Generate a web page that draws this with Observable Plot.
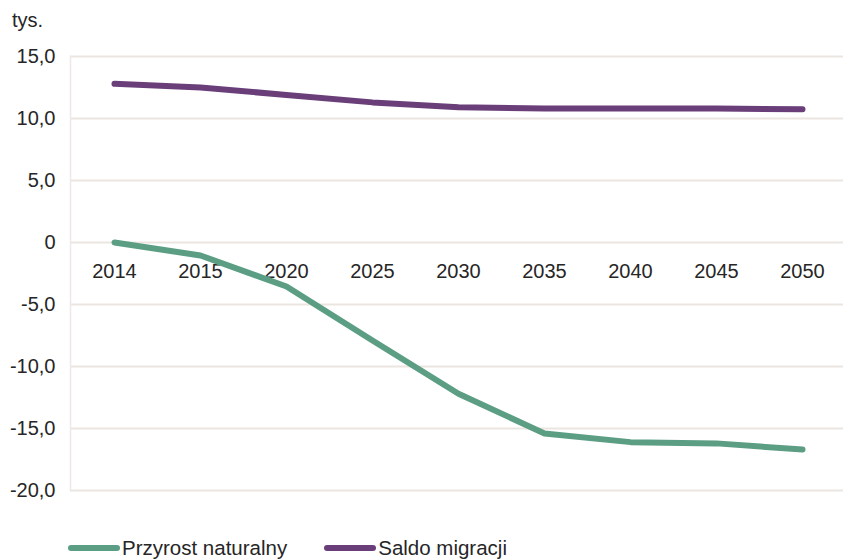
<!DOCTYPE html>
<html>
<head>
<meta charset="utf-8">
<script src="https://cdn.jsdelivr.net/npm/d3@7"></script>
<script src="https://cdn.jsdelivr.net/npm/@observablehq/plot@0.6"></script>
<style>
  body { margin: 0; background: #fff; font-family: "Liberation Sans", Arial, sans-serif; }
  #wrap { position: relative; width: 843px; height: 559px; overflow: hidden; }
  #unit { position: absolute; left: 12px; top: 9px; font-size: 20px; color: #262626; }
  #legend { position: absolute; left: 68px; top: 536px; font-size: 20.5px; color: #262626; display: flex; align-items: center; }
  .item { display: flex; align-items: center; margin-right: 37px; }
  .sw { width: 52px; height: 6px; border-radius: 3px; margin-right: 2px; }
  #chart { position: absolute; left: 0; top: 0; }
</style>
</head>
<body>
<div id="wrap">
  <div id="chart"></div>
  <div id="unit">tys.</div>
  <div id="legend"></div>
</div>
<script>
const years = ["2014", "2015", "2020", "2025", "2030", "2035", "2040", "2045", "2050"];
const przyrost = [0, -1.05, -3.55, -7.9, -12.2, -15.4, -16.1, -16.2, -16.7];
const saldo = [12.8, 12.5, 11.9, 11.3, 10.9, 10.8, 10.8, 10.8, 10.75];
const seriesNames = ["Przyrost naturalny", "Saldo migracji"];
const seriesColors = ["#5c9e84", "#6a3f79"];
const yTicks = [-20, -15, -10, -5, 0, 5, 10, 15];

const rows = [];
years.forEach((y, i) => {
  rows.push({year: y, value: przyrost[i], series: seriesNames[0]});
  rows.push({year: y, value: saldo[i], series: seriesNames[1]});
});

const fmt = d => d === 0 ? "0" : d.toFixed(1).replace(".", ",");

const chart = Plot.plot({
  width: 843,
  height: 520,
  marginTop: 56,
  marginBottom: 30,
  marginLeft: 70,
  marginRight: 0,
  style: {fontFamily: "'Liberation Sans', Arial, sans-serif", fontSize: "20px", color: "#262626", background: "transparent"},
  x: {type: "point", domain: years, range: [113, 803], padding: 0, axis: null},
  y: {domain: [-20, 15], ticks: yTicks},
  color: {domain: seriesNames, range: seriesColors},
  marks: [
    Plot.gridY(yTicks, {stroke: "#ebe5e1", strokeOpacity: 1, strokeWidth: 2}),
    Plot.frame({anchor: "left", stroke: "#ede9e6", strokeWidth: 1.5}),
    Plot.axisY(yTicks, {tickSize: 0, tickPadding: 15, tickFormat: fmt, label: null, fontSize: 20, fill: "#262626"}),
    Plot.text(years, {x: d => d, y: () => 0, dy: 29, text: d => d, fontSize: 20, fill: "#262626"}),
    Plot.line(rows, {x: "year", y: "value", z: "series", stroke: "series", strokeWidth: 6, curve: "linear", strokeLinecap: "round", strokeLinejoin: "round"})
  ]
});
document.getElementById("chart").appendChild(chart);

const legend = document.getElementById("legend");
seriesNames.forEach((n, i) => {
  const it = document.createElement("div");
  it.className = "item";
  const sw = document.createElement("div");
  sw.className = "sw";
  sw.style.background = seriesColors[i];
  const t = document.createElement("span");
  t.textContent = n;
  it.appendChild(sw);
  it.appendChild(t);
  legend.appendChild(it);
});
</script>
</body>
</html>
